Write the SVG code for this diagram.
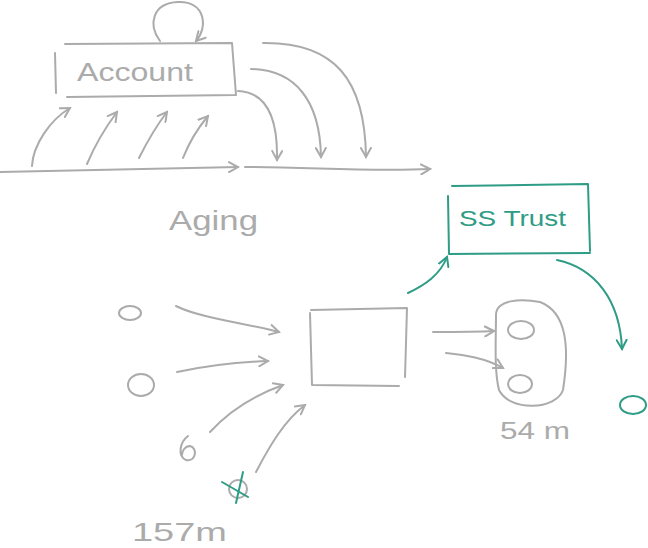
<svg xmlns="http://www.w3.org/2000/svg" width="648" height="548" viewBox="0 0 648 548">
<style>
.g{fill:none;stroke:#ababab;stroke-width:2;stroke-linecap:round;stroke-linejoin:round}
.t{fill:none;stroke:#2f9c86;stroke-width:2;stroke-linecap:round;stroke-linejoin:round}
.lbl{font-family:"Liberation Sans","DejaVu Sans",sans-serif;fill:#ababab}
.tl{font-family:"Liberation Sans","DejaVu Sans",sans-serif;fill:#2f9c86}
</style>
<defs>
<marker id="ag" viewBox="0 0 12 12" refX="10" refY="6" markerWidth="12" markerHeight="12" markerUnits="userSpaceOnUse" orient="auto">
<path d="M1,1 L10,6 L1,11" fill="none" stroke="#ababab" stroke-width="2" stroke-linecap="round"/>
</marker>
<marker id="at" viewBox="0 0 12 12" refX="10" refY="6" markerWidth="12" markerHeight="12" markerUnits="userSpaceOnUse" orient="auto">
<path d="M1,1 L10,6 L1,11" fill="none" stroke="#2f9c86" stroke-width="2" stroke-linecap="round"/>
</marker>
</defs>
<g id="account">
<path class="g" d="M55,53 L56,93 M65,44 L232,43 L236,95 L67,97"/>
<text class="lbl" x="77" y="81" font-size="26" textLength="116" lengthAdjust="spacingAndGlyphs">Account</text>
</g>
<g id="aging">
<text class="lbl" x="169" y="230" font-size="28" textLength="89" lengthAdjust="spacingAndGlyphs">Aging</text>
</g>
<g id="ss-trust">
<path class="t" d="M448,196 L449,254 L590,253 M452,186 L588,184 L590,251"/>
<text class="tl" x="459" y="226" font-size="22" textLength="107" lengthAdjust="spacingAndGlyphs">SS Trust</text>
</g>
<g id="process">
<path class="g" d="M310,313 L312,385 L399,386 M311,310 L407,308 L405,377"/>
</g>
<g id="group54">
<path class="g" stroke-width="1.3" d="M496,315 C496,300 520,298 540,302 C566,312 570,345 563,390 C556,410 510,412 499,390 C494,370 496,340 496,315 Z"/>
<ellipse class="g" cx="521" cy="330" rx="13" ry="9"/>
<ellipse class="g" cx="520" cy="384" rx="12" ry="9"/>
<text class="lbl" x="500" y="439" font-size="23" textLength="70" lengthAdjust="spacingAndGlyphs">54 m</text>
</g>
<g id="n1"><ellipse class="g" cx="130" cy="313" rx="11" ry="7"/></g>
<g id="n2"><ellipse class="g" cx="141" cy="385" rx="13" ry="11"/></g>
<g id="n3"><path class="g" d="M188,436 C180,442 177,456 186,460 C196,462 198,448 190,446 C185,446 182,451 182,455"/></g>
<g id="n4">
<circle class="g" cx="238" cy="489" r="9"/>
<path class="t" stroke-width="3" d="M222,482 L248,497 M243,472 L236,503"/>
<text class="lbl" x="132" y="541" font-size="25" textLength="95" lengthAdjust="spacingAndGlyphs">157m</text>
</g>
<g id="n5"><ellipse class="t" cx="633" cy="405" rx="13" ry="9"/></g>
<g id="connectors">
<path class="g" d="M160,41 C148,25 152,3 178,2 C206,1 208,28 196,41" marker-end="url(#ag)"/>
<path class="g" d="M0,172 C80,170 160,168 238,167" marker-end="url(#ag)"/>
<path class="g" d="M245,167 C310,167 370,172 430,169" marker-end="url(#ag)"/>
<path class="g" d="M32,166 C33,145 50,120 70,108" marker-end="url(#ag)"/>
<path class="g" d="M87,164 C95,145 105,128 117,112" marker-end="url(#ag)"/>
<path class="g" d="M139,158 C148,140 157,125 167,112" marker-end="url(#ag)"/>
<path class="g" d="M183,158 C190,140 198,128 208,116" marker-end="url(#ag)"/>
<path class="g" d="M238,91 C265,92 278,115 277,160" marker-end="url(#ag)"/>
<path class="g" d="M251,69 C295,70 320,100 321,157" marker-end="url(#ag)"/>
<path class="g" d="M263,43 C335,42 365,80 366,157" marker-end="url(#ag)"/>
<path class="g" d="M176,306 C200,318 240,322 279,332" marker-end="url(#ag)"/>
<path class="g" d="M177,372 C210,365 240,362 268,361" marker-end="url(#ag)"/>
<path class="g" d="M210,432 C230,410 255,395 283,385" marker-end="url(#ag)"/>
<path class="g" d="M256,472 C270,445 285,420 305,405" marker-end="url(#ag)"/>
<path class="g" d="M433,332 C455,332 475,332 494,331" marker-end="url(#ag)"/>
<path class="g" d="M446,353 C465,355 485,358 503,368" marker-end="url(#ag)"/>
<path class="t" d="M408,293 C425,285 440,275 447,257" marker-end="url(#at)"/>
<path class="t" d="M557,260 C595,268 620,300 622,349" marker-end="url(#at)"/>
</g>
</svg>
